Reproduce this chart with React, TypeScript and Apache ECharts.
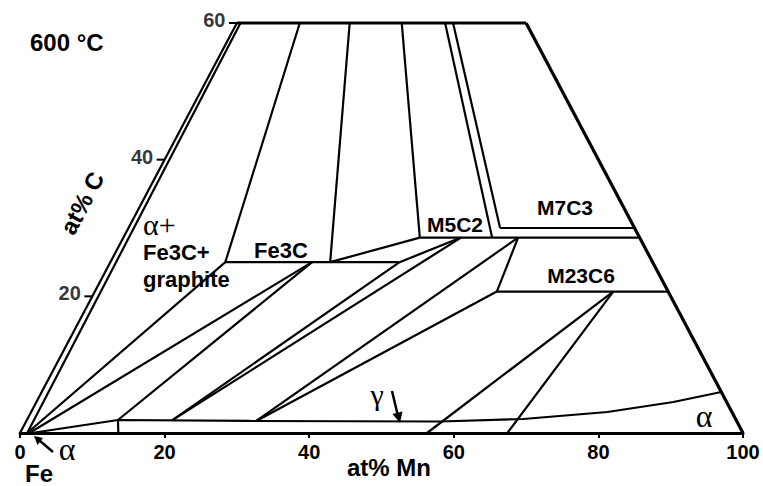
import React, { useEffect, useRef } from "react";
import * as echarts from "echarts";

// Each point is [at% Mn, at% C] on the Fe–Mn–C isothermal section (600 °C)
type P = [number, number];

const mnTicks = [0, 20, 40, 60, 80, 100];
const cTicks = [20, 40, 60];

// frame of the section (C <= 60 at%)
const edgeFeC: P[] = [[0, 0], [0, 60]];
const edgeTop: P[] = [[0, 60], [40, 60]];
const edgeMnC: P[] = [[40, 60], [100, 0]];

// graphite tie lines (towards the C corner)
const alphaGraphite: P[] = [[1.0, 0], [0.5, 60]];
const fe3cGraphiteL: P[] = [[8.7, 60], [15.9, 25]];
const fe3cGraphiteR: P[] = [[15.6, 60], [30.4, 25]];
const m5c2GraphiteL: P[] = [[22.8, 60], [41.0, 28.6]];
const m5c2GraphiteR: P[] = [[28.8, 60], [51.0, 28.6]];
const m7c3Graphite: P[] = [[29.9, 60], [51.4, 30]];

// carbide lines
const fe3cLine: P[] = [[15.9, 25], [40.0, 25]];
const fe3cM5c2A: P[] = [[30.4, 25], [41.0, 28.6]];
const fe3cM5c2B: P[] = [[40.0, 25], [46.7, 28.6]];
const m5c2Line: P[] = [[41.0, 28.6], [71.4, 28.6]];
const m7c3Line: P[] = [[51.4, 30], [70.0, 30]];
const m23c6Left: P[] = [[54.6, 28.6], [55.6, 20.7]];
const m23c6Line: P[] = [[55.6, 20.7], [79.3, 20.7]];

// gamma / alpha boundary near the Fe–Mn side
const gammaBoundary: P[] = [
  [1.6, 0], [12.6, 1.9], [30.9, 1.76], [57.3, 1.68], [68.6, 2.05],
  [79.7, 3.07], [88.1, 4.54], [94.0, 6.0],
];
const alphaGammaTick: P[] = [[12.6, 1.9], [13.6, 0]];

// tie lines of the two- and three-phase fields
const alphaFe3cA: P[] = [[1.0, 0], [15.9, 25]];
const alphaFe3cB: P[] = [[1.3, 0], [27.9, 25]];
const gammaFe3cA: P[] = [[12.6, 1.9], [27.9, 25]];
const gammaFe3cB: P[] = [[20.1, 1.85], [40.0, 25]];
const gammaM5c2: P[] = [[20.1, 1.85], [46.7, 28.6]];
const gammaM23c6A: P[] = [[31.8, 1.76], [54.6, 28.6]];
const gammaM23c6B: P[] = [[31.8, 1.76], [55.6, 20.7]];
const alphaM23c6A: P[] = [[56.3, 0], [71.7, 20.7]];
const alphaM23c6B: P[] = [[67.4, 0], [71.7, 20.7]];

const frameLines = [edgeTop, edgeMnC];
const thinLines = [
  edgeFeC, alphaGraphite,
  fe3cGraphiteL, fe3cGraphiteR, m5c2GraphiteL, m5c2GraphiteR, m7c3Graphite,
  fe3cLine, fe3cM5c2A, fe3cM5c2B, m5c2Line, m7c3Line, m23c6Left, m23c6Line,
  gammaBoundary, alphaGammaTick,
  alphaFe3cA, alphaFe3cB, gammaFe3cA, gammaFe3cB, gammaM5c2,
  gammaM23c6A, gammaM23c6B, alphaM23c6A, alphaM23c6B,
];

// ternary (Mn, C) -> plotting coordinates (Mn + C/2, C)
const toXY = (p: P) => [p[0] + p[1] / 2, p[1]];

const SANS = "'Liberation Sans', Arial, sans-serif";
const SERIF = "'Liberation Serif', 'Times New Roman', serif";
const TICK_LEN = 1.1; // at% along the x scale

export default function App() {
  const ref = useRef<HTMLDivElement>(null);

  useEffect(() => {
    if (!ref.current) return;
    const chart = echarts.init(ref.current, null, { renderer: "svg" });

    const lineSeries = (data: P[], width: number) => ({
      type: "line",
      data: data.map(toXY),
      symbol: "none",
      silent: true,
      clip: false,
      lineStyle: { color: "#000", width },
      z: 3,
    });

    const txt = (text: string, x: number, y: number, size: number, opts: any = {}) => ({
      type: "text",
      x,
      y,
      silent: true,
      rotation: opts.rotation || 0,
      style: {
        text,
        fill: "#000",
        fontSize: size,
        fontFamily: opts.serif ? SERIF : SANS,
        fontWeight: opts.serif ? "normal" : "bold",
        align: opts.align || "left",
        verticalAlign: "middle",
      },
    });

    const option: any = {
      animation: false,
      backgroundColor: "#fff",
      grid: { left: 20, right: 20, top: 23, bottom: 53 },
      xAxis: {
        type: "value",
        min: mnTicks[0],
        max: mnTicks[mnTicks.length - 1],
        interval: mnTicks[1] - mnTicks[0],
        axisLine: { show: true, onZero: false, lineStyle: { color: "#000", width: 3 } },
        axisTick: { show: true, length: 5, lineStyle: { color: "#000", width: 2 } },
        axisLabel: {
          color: "#000",
          fontSize: 20,
          fontWeight: "bold",
          fontFamily: SANS,
          margin: 9,
          formatter: (v: number) => String(v),
        },
        splitLine: { show: false },
      },
      yAxis: { type: "value", min: 0, max: 60, show: false },
      series: [
        ...frameLines.map((d) => lineSeries(d, 3.2)),
        ...thinLines.map((d) => lineSeries(d, 2.2)),
        ...cTicks.map((c) =>
          lineSeries(
            [
              [-TICK_LEN, c],
              [0, c],
            ],
            2
          )
        ),
        {
          type: "scatter",
          silent: true,
          data: cTicks.map((c) => [c / 2 - TICK_LEN, c]),
          symbolSize: 1,
          itemStyle: { color: "rgba(0,0,0,0)" },
          label: {
            show: true,
            position: "left",
            distance: 3,
            offset: [0, -3],
            color: "#000",
            fontSize: 20,
            fontWeight: "bold",
            fontFamily: SANS,
            formatter: (p: any) => String(p.value[1]),
          },
        },
      ],
      graphic: [
        txt("600 °C", 30, 42, 24),
        txt("at% Mn", 389, 467, 24, { align: "center" }),
        txt("Fe", 25, 473, 24),
        txt("at% C", 82, 203, 24, { align: "center", rotation: (62 * Math.PI) / 180 }),
        txt("α+", 143, 224, 30, { serif: true }),
        txt("Fe3C+", 143, 252, 22),
        txt("graphite", 143, 279, 22),
        txt("Fe3C", 281, 250, 22, { align: "center" }),
        txt("M5C2", 455, 224, 21, { align: "center" }),
        txt("M7C3", 565, 207, 21, { align: "center" }),
        txt("M23C6", 581, 275, 21, { align: "center" }),
        txt("α", 704, 416, 32, { serif: true, align: "center" }),
        txt("α", 67, 449, 32, { serif: true, align: "center" }),
        txt("γ", 377, 394, 30, { serif: true, align: "center" }),
        // arrow to the alpha field at the Fe corner
        { type: "line", silent: true, shape: { x1: 53, y1: 452, x2: 39, y2: 440 }, style: { stroke: "#000", lineWidth: 2.5 } },
        { type: "polygon", silent: true, shape: { points: [[34, 436], [43, 438], [37.5, 445]] }, style: { fill: "#000" } },
        // arrow to the gamma field
        { type: "line", silent: true, shape: { x1: 392, y1: 391, x2: 397.5, y2: 414 }, style: { stroke: "#000", lineWidth: 2.5 } },
        { type: "polygon", silent: true, shape: { points: [[400, 423], [402.5, 411.5], [392.5, 414]] }, style: { fill: "#000" } },
      ],
    };

    chart.setOption(option);
    return () => chart.dispose();
  }, []);

  return (
    <div
      ref={ref}
      style={{ position: "fixed", left: 0, top: 0, width: 763, height: 486, background: "#fff" }}
    />
  );
}
